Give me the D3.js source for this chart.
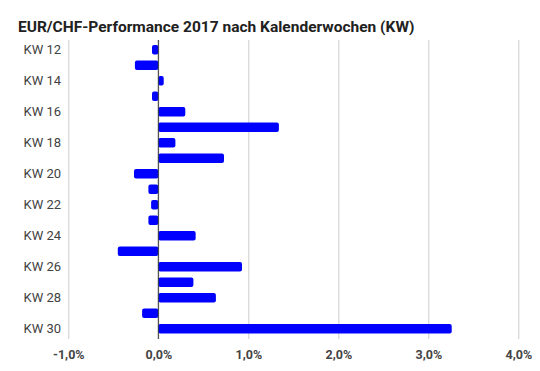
<!DOCTYPE html>
<html><head><meta charset="utf-8">
<script src="https://cdn.jsdelivr.net/npm/d3@7"></script>
<style>body{margin:0;background:#fff}svg{display:block}</style>
</head><body>
<svg id="c" width="540" height="371"></svg>
<script>
const categories = ["KW 12","KW 13","KW 14","KW 15","KW 16","KW 17","KW 18","KW 19","KW 20","KW 21","KW 22","KW 23","KW 24","KW 25","KW 26","KW 27","KW 28","KW 29","KW 30"];
const values = [-0.07,-0.26,0.06,-0.07,0.30,1.34,0.19,0.73,-0.27,-0.11,-0.08,-0.11,0.415,-0.45,0.93,0.39,0.64,-0.18,3.26];
const xTicks = [-1,0,1,2,3,4];
const yLabels = ["KW 12","KW 14","KW 16","KW 18","KW 20","KW 22","KW 24","KW 26","KW 28","KW 30"];
const title = "EUR/CHF-Performance 2017 nach Kalenderwochen (KW)";

const svg = d3.select("#c");
const font = "Roboto, 'Noto Sans', sans-serif";
const x = d3.scaleLinear().domain([-1,4]).range([68.3,518.3]);
const y = d3.scaleBand().domain(categories).range([42,336.5]).paddingInner(0.38).paddingOuter(0.19);

svg.append("text").attr("x",18).attr("y",31.5).attr("font-family",font).attr("font-weight","bold")
  .attr("font-size",15.5).attr("fill","#212121").text(title);

const gx = svg.append("g").attr("transform","translate(0,339)")
  .call(d3.axisBottom(x).tickValues(xTicks).tickSize(-299)
    .tickFormat(d => d3.format(".1f")(d).replace(".",",").replace("−","-") + "%"));
gx.select(".domain").remove();
gx.selectAll(".tick line").attr("stroke", "#cccccc");
gx.selectAll(".tick text").attr("y",20).attr("dy",0).attr("font-family",font).attr("font-weight","bold")
  .attr("font-size",12.5).attr("fill","#444");

svg.append("g").selectAll("rect").data(values).join("rect")
  .attr("x", d => x(Math.min(0,d)))
  .attr("width", d => Math.abs(x(d)-x(0)))
  .attr("y", (d,i) => y(categories[i]))
  .attr("height", y.bandwidth())
  .attr("rx",2).attr("fill","#0000ff");

svg.append("line").attr("x1",x(0)).attr("x2",x(0)).attr("y1",40).attr("y2",339)
  .attr("stroke","#333").attr("stroke-width",1);

const gy = svg.append("g").attr("transform","translate(61,0)")
  .call(d3.axisLeft(y).tickValues(yLabels).tickSize(0).tickPadding(0));
gy.select(".domain").remove();
gy.selectAll(".tick text").attr("font-family",font).attr("font-size",13).attr("fill","#424242");
</script>
</body></html>
